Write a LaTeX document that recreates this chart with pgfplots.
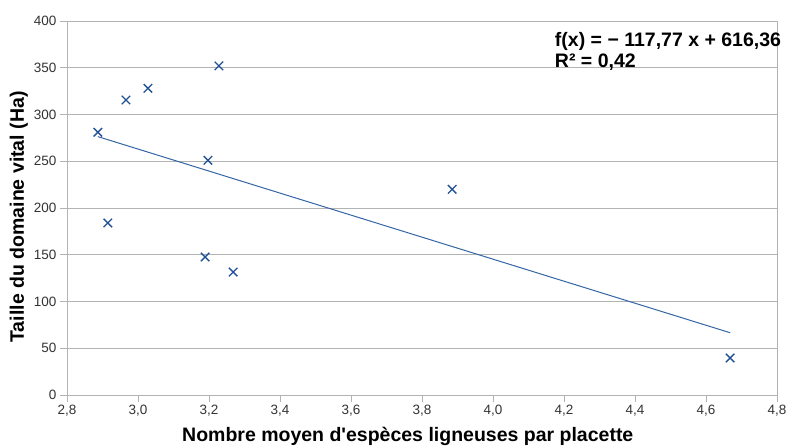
\documentclass[border=0pt]{standalone}
\usepackage{fontspec}
\setmainfont{Liberation Sans}
\usepackage{pgfplots}
\pgfplotsset{compat=1.18}
\usetikzlibrary{calc}
\definecolor{markblue}{RGB}{34,82,150}
\definecolor{lineblue}{RGB}{52,101,164}
\definecolor{gridgray}{RGB}{179,179,179}
\definecolor{ticktext}{RGB}{51,51,51}
\begin{document}
\begin{tikzpicture}
\begin{axis}[
  scale only axis,
  width=710pt, height=374pt,
  xmin=2.8, xmax=4.8, ymin=0, ymax=400,
  xtick={2.8,3.0,...,4.81},
  ytick={0,50,...,400},
  ymajorgrids,
  grid style={gridgray, line width=0.8pt},
  axis line style={gridgray, line width=0.8pt},
  tick style={gridgray, line width=0.8pt},
  major tick length=7pt,
  tick align=outside,
  xtick pos=bottom, ytick pos=left,
  /pgf/number format/assume math mode=true,
  xticklabel style={/pgf/number format/.cd, fixed, fixed zerofill, precision=1, use comma},
  yticklabel style={/pgf/number format/.cd, fixed, precision=0},
  ticklabel style={font=\fontsize{13.5}{15}\selectfont, text=ticktext},
  xlabel={Nombre moyen d\textquotesingle espèces ligneuses par placette},
  ylabel={Taille du domaine vital (Ha)},
  xlabel style={font=\fontsize{19.5}{21}\selectfont\bfseries, at={(axis description cs:0.48,0)}, anchor=north, inner sep=0pt, yshift=-32pt},
  ylabel style={font=\fontsize{19.5}{21}\selectfont\bfseries, at={(axis description cs:0,0.476)}, anchor=south, inner sep=0pt, yshift=39pt},
  clip=false,
]
\addplot[only marks, mark=x, mark size=6pt, markblue, line width=1.3pt] coordinates {
 (2.887,281) (2.966,315.5) (3.028,328) (3.228,352) (3.197,251)
 (3.885,220) (2.915,184) (3.189,147.6) (3.268,131.5) (4.668,39.6)
};
\addplot[lineblue, line width=1pt, mark=none] coordinates {(2.887,276.35) (4.668,66.6)};
\node[anchor=north west, inner sep=0pt, align=left, font=\fontsize{19.5}{21}\selectfont\bfseries] at (rel axis cs:0.687,0.97) {f(x) = − 117,77 x + 616,36\\R² = 0,42};
\end{axis}
\pgfresetboundingbox
\path ($(current axis.south west)+(-67pt,-50pt)$) rectangle ($(current axis.north east)+(13pt,21pt)$);
\end{tikzpicture}
\end{document}
